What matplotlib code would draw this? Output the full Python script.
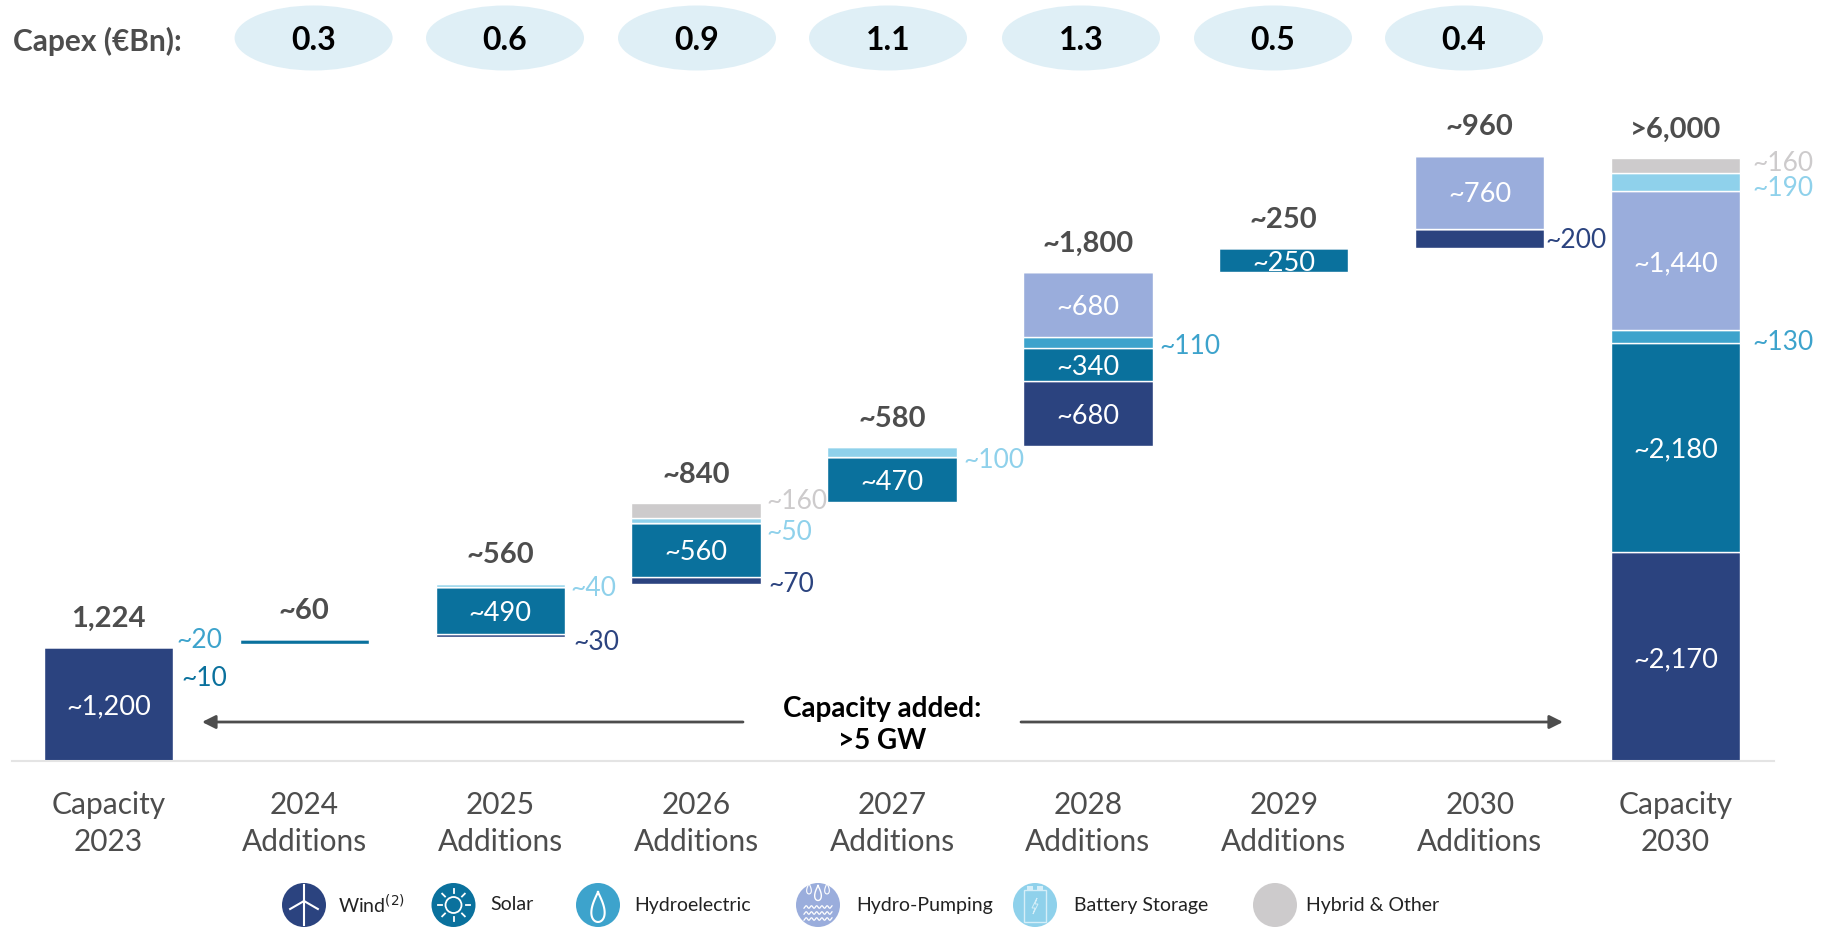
import numpy as np
import matplotlib
matplotlib.use("Agg")
import matplotlib.pyplot as plt
from matplotlib.patches import Ellipse, Circle, Rectangle, Polygon

plt.rcParams['font.family'] = ['Lato', 'DejaVu Sans']

categories = ['Capacity\n2023', '2024\nAdditions', '2025\nAdditions', '2026\nAdditions',
              '2027\nAdditions', '2028\nAdditions', '2029\nAdditions', '2030\nAdditions',
              'Capacity\n2030']
totals = ['1,224', '~60', '~560', '~840', '~580', '~1,800', '~250', '~960', '>6,000']
capex = ['0.3', '0.6', '0.9', '1.1', '1.3', '0.5', '0.4']

# where each column starts
base = [0, 1220, 1285, 1842, 2690, 3273, 5079, 5333, 0]
wind = [1185, 0, 30, 70, 0, 680, 0, 200, 2170]
solar = [0, 45, 490, 560, 470, 340, 250, 0, 2180]
hydro = [0, 0, 0, 0, 0, 110, 0, 0, 130]
pumping = [0, 0, 0, 0, 0, 680, 0, 760, 1440]
battery = [0, 0, 40, 50, 100, 0, 0, 0, 190]
hybrid = [0, 0, 0, 160, 0, 0, 0, 0, 160]

wind_txt = ['~1,200', '', '', '', '', '~680', '', '', '~2,170']
solar_txt = ['', '', '~490', '~560', '~470', '~340', '~250', '', '~2,180']
pumping_txt = ['', '', '', '', '', '~680', '', '~760', '~1,440']

NAVY = '#2B437F'
BLUE = '#0A719D'
HYDRO = '#3DA3CC'
PUMP = '#9AADDC'
BATT = '#8FD1EB'
GREY = '#CDCBCC'
DARK = '#4D4D4D'

series = [(wind, NAVY, wind_txt), (solar, BLUE, solar_txt), (hydro, HYDRO, None),
          (pumping, PUMP, pumping_txt), (battery, BATT, None), (hybrid, GREY, None)]

W, H = 1828, 927
BASELINE = 761
fig = plt.figure(figsize=(W / 100, H / 100), dpi=100)
ax = fig.add_axes([0, (H - BASELINE) / H, 1, BASELINE / H])
spacing = 195.9
ax.set_xlim(-108.4 / spacing, (W - 108.4) / spacing)
ax.set_ylim(0, BASELINE / 0.0962)

x = np.arange(len(categories))
bottom = np.array(base, dtype=float)
for vals, col, txt in series:
    bars = ax.bar(x, vals, width=0.66, bottom=bottom, color=col, edgecolor='white', linewidth=1)
    if txt is not None:
        for lab in ax.bar_label(bars, labels=txt, label_type='center', color='white', fontsize=19.5):
            lab.xyann = (0, -2)  # sit a touch lower, like the original
    bottom += np.array(vals)

for xi, top, t in zip(x, bottom, totals):
    ax.annotate(t, (xi, top), xytext=(0, 14.5), textcoords='offset points', ha='center', va='baseline',
                fontsize=21, fontweight='bold', color=DARK)

for s in ['top', 'left', 'right']:
    ax.spines[s].set_visible(False)
ax.spines['bottom'].set_color('#E4E4E4')
ax.spines['bottom'].set_linewidth(1.5)
ax.spines['bottom'].set_bounds((12 - 108.4) / spacing, (1774 - 108.4) / spacing)
ax.set_yticks([])
ax.set_xticks(x, categories, fontsize=21.5, color=DARK, linespacing=1.4)
ax.tick_params(axis='x', length=0, pad=21.5)

# overlay in picture pixels for the furniture
oa = fig.add_axes([0, 0, 1, 1])
oa.set_xlim(0, W)
oa.set_ylim(H, 0)
oa.axis('off')

oa.text(13, 41, 'Capex (€Bn):', fontsize=21.5, fontweight='bold', color=DARK, ha='left', va='center')
for cx, c in zip([313.6, 505, 697, 888, 1081, 1273, 1464], capex):
    oa.add_patch(Ellipse((cx, 38), 158, 65, color='#DFEFF6', lw=0))
    oa.text(cx, 40, c, fontsize=23, fontweight='bold', color='black', ha='center', va='center')

side = [(176, 641, '~20', HYDRO), (181, 679, '~10', BLUE), (570, 588, '~40', BATT),
        (573, 643, '~30', NAVY), (766, 501, '~160', GREY), (766, 532, '~50', BATT),
        (768, 585, '~70', NAVY), (963, 460, '~100', BATT), (1159, 346, '~110', HYDRO),
        (1545, 240, '~200', NAVY), (1752, 163, '~160', GREY), (1752, 188, '~190', BATT),
        (1752, 342, '~130', HYDRO)]
for sx, sy, t, c in side:
    oa.text(sx, sy, t, fontsize=19, color=c, ha='left', va='center')

# capacity added arrows
oa.annotate('', xy=(202, 722), xytext=(743, 722),
            arrowprops=dict(arrowstyle='-|>', color=DARK, lw=2, mutation_scale=20, shrinkA=0, shrinkB=0))
oa.annotate('', xy=(1563, 722), xytext=(1021, 722),
            arrowprops=dict(arrowstyle='-|>', color=DARK, lw=2, mutation_scale=20, shrinkA=0, shrinkB=0))
oa.text(882, 725, 'Capacity added:\n>5 GW', fontsize=20, fontweight='bold', color='black',
        ha='center', va='center', linespacing=1.25)


# legend icons, rough versions of the originals
def turbine(cx, cy):
    oa.plot([cx, cx], [cy - 2, cy + 20], color='white', lw=1.5)
    for a in [90, 210, 330]:
        r = np.radians(a)
        oa.plot([cx, cx + 16 * np.cos(r)], [cy - 4, cy - 4 - 16 * np.sin(r)], color='white', lw=1.5)


def sun(cx, cy):
    oa.add_patch(Circle((cx, cy), 8, fill=False, ec='white', lw=1.3))
    for a in np.arange(0, 360, 45):
        r = np.radians(a)
        oa.plot([cx + 12 * np.cos(r), cx + 16 * np.cos(r)],
                [cy + 12 * np.sin(r), cy + 16 * np.sin(r)], color='white', lw=1.3)


def drop(cx, cy, s=1.0, lw=1.5):
    t = np.linspace(0, 2 * np.pi, 60)
    xs = cx + s * 9 * np.sin(t) * np.sin(t / 2) ** 1.2
    ys = cy + s * (15 - 15 * (1 + np.cos(t)))
    oa.plot(xs, ys + s * 2, color='white', lw=lw)


def waves(cx, cy):
    for dy in [0, 6, 12]:
        t = np.linspace(-14, 14, 40)
        oa.plot(cx + t, cy + dy + 1.3 * np.sin(t * 1.2), color='white', lw=0.9)


def batt(cx, cy):
    oa.add_patch(Rectangle((cx - 11, cy - 15), 22, 32, fill=False, ec='#D5EEF8', lw=1))
    oa.add_patch(Rectangle((cx - 8, cy - 19), 6, 4, color='#D5EEF8', lw=0))
    oa.add_patch(Rectangle((cx + 2, cy - 19), 6, 4, color='#D5EEF8', lw=0))
    oa.add_patch(Polygon([(cx + 2, cy - 7), (cx - 3, cy + 3), (cx, cy + 3), (cx - 2, cy + 9),
                          (cx + 3, cy - 1), (cx, cy - 1)], fill=False, ec='#D5EEF8', lw=0.7))


legend_names = ['Wind$^{(2)}$', 'Solar', 'Hydroelectric', 'Hydro-Pumping', 'Battery Storage', 'Hybrid & Other']
legend_cols = [NAVY, BLUE, HYDRO, PUMP, BATT, GREY]
icon_x = [304, 453.5, 598, 818, 1035, 1275]
text_x = [338, 490, 634, 856, 1074, 1306]
for cx, tx, name, col in zip(icon_x, text_x, legend_names, legend_cols):
    oa.add_patch(Circle((cx, 905), 22, color=col, lw=0))
    oa.text(tx, 905, name, fontsize=14, color='#222222', ha='left', va='center')
turbine(icon_x[0], 905)
sun(icon_x[1], 905)
drop(icon_x[2], 905)
drop(icon_x[3], 892, 0.5, 1)
drop(icon_x[3] - 9, 888, 0.35, 0.8)
drop(icon_x[3] + 9, 888, 0.35, 0.8)
waves(icon_x[3], 907)
batt(icon_x[4], 905)

fig.savefig('out.png', dpi=100)
